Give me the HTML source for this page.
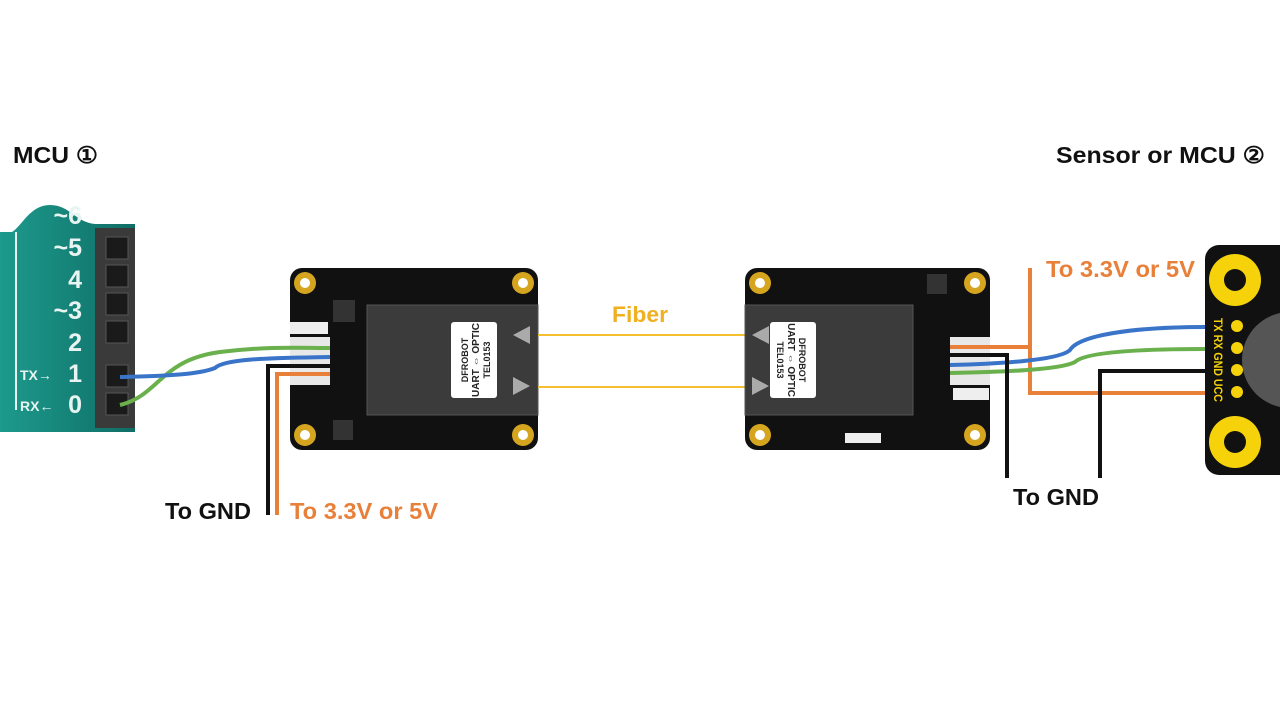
<!DOCTYPE html>
<html><head><meta charset="utf-8"><style>
html,body{margin:0;padding:0;background:#fff;}
svg{display:block;}
text{font-family:"Liberation Sans",sans-serif;font-weight:bold;}
</style></head><body>
<svg width="1280" height="720" viewBox="0 0 1280 720" xmlns="http://www.w3.org/2000/svg">
<rect width="1280" height="720" fill="#fff"/>
<text x="13" y="163" font-size="23" fill="#111" textLength="85" lengthAdjust="spacingAndGlyphs">MCU ①</text>
<text x="1056" y="163" font-size="23" fill="#111" textLength="209" lengthAdjust="spacingAndGlyphs">Sensor or  MCU ②</text>

<!-- MCU board -->
<defs><linearGradient id="tg" x1="0" x2="1"><stop offset="0" stop-color="#1d9a8c"/><stop offset="1" stop-color="#0f6e66"/></linearGradient></defs>
<path d="M0,232 L12,232 C22,226 30,205 50,205 C70,205 75,222 95,224 L135,224 L135,432 L0,432 Z" fill="url(#tg)"/>
<line x1="16" y1="232" x2="16" y2="410" stroke="#e8f4f2" stroke-width="2"/>
<rect x="95" y="228" width="40" height="200" fill="#3a3a3a"/>
<g fill="#1a1a1a" stroke="#555">
<rect x="106" y="237" width="22" height="22"/><rect x="106" y="265" width="22" height="22"/><rect x="106" y="293" width="22" height="22"/><rect x="106" y="321" width="22" height="22"/><rect x="106" y="365" width="22" height="22"/><rect x="106" y="393" width="22" height="22"/></g>
<g fill="#e8f4f2" font-size="25" text-anchor="end">
<text x="82" y="224">~6</text><text x="82" y="256">~5</text><text x="82" y="288">4</text><text x="82" y="319">~3</text><text x="82" y="351">2</text><text x="82" y="382">1</text><text x="82" y="413">0</text></g>
<g fill="#e8f4f2" font-size="14"><text x="20" y="380">TX→</text><text x="20" y="411">RX←</text></g>

<!-- left module -->
<rect x="290" y="268" width="248" height="182" rx="12" fill="#111"/>
<rect x="367" y="305" width="171" height="110" fill="#3b3b3b" stroke="#555"/>
<rect x="451" y="322" width="46" height="76" rx="3" fill="#fff"/>
<g fill="#222" font-size="9" transform="translate(474,360) rotate(-90)" text-anchor="middle"><text y="-6">DFROBOT</text><text y="5" font-size="10">UART ⇔ OPTIC</text><text y="16" font-weight="normal">TEL0153</text></g>
<polygon points="513,335 530,326 530,344" fill="#aaa"/>
<polygon points="513,377 530,386 513,395" fill="#aaa"/>
<rect x="290" y="337" width="40" height="48" fill="#e8e8e8"/>
<rect x="290" y="322" width="38" height="12" fill="#eee"/>
<g fill="#d6a520"><circle cx="305" cy="283" r="11"/><circle cx="523" cy="283" r="11"/><circle cx="305" cy="435" r="11"/><circle cx="523" cy="435" r="11"/></g>
<g fill="#fff"><circle cx="305" cy="283" r="5"/><circle cx="523" cy="283" r="5"/><circle cx="305" cy="435" r="5"/><circle cx="523" cy="435" r="5"/></g>
<rect x="333" y="300" width="22" height="22" fill="#333"/><rect x="333" y="420" width="20" height="20" fill="#333"/>

<!-- fiber -->
<line x1="538" y1="335" x2="745" y2="335" stroke="#f5c030" stroke-width="2"/>
<line x1="538" y1="387" x2="745" y2="387" stroke="#f5c030" stroke-width="2"/>
<text x="612" y="322" font-size="22" fill="#f0b020" textLength="56" lengthAdjust="spacingAndGlyphs">Fiber</text>

<!-- right module -->
<rect x="745" y="268" width="245" height="182" rx="12" fill="#111"/>
<rect x="745" y="305" width="168" height="110" fill="#3b3b3b" stroke="#555"/>
<rect x="770" y="322" width="46" height="76" rx="3" fill="#fff"/>
<g fill="#222" font-size="9" transform="translate(793,360) rotate(90)" text-anchor="middle"><text y="-6">DFROBOT</text><text y="5" font-size="10">UART ⇔ OPTIC</text><text y="16" font-weight="normal">TEL0153</text></g>
<polygon points="752,335 769,326 769,344" fill="#aaa"/>
<polygon points="752,377 769,386 752,395" fill="#aaa"/>
<rect x="950" y="337" width="40" height="48" fill="#e8e8e8"/>
<rect x="953" y="388" width="36" height="12" fill="#eee"/>
<g fill="#d6a520"><circle cx="760" cy="283" r="11"/><circle cx="975" cy="283" r="11"/><circle cx="760" cy="435" r="11"/><circle cx="975" cy="435" r="11"/></g>
<g fill="#fff"><circle cx="760" cy="283" r="5"/><circle cx="975" cy="283" r="5"/><circle cx="760" cy="435" r="5"/><circle cx="975" cy="435" r="5"/></g>
<rect x="927" y="274" width="20" height="20" fill="#333"/><rect x="845" y="433" width="36" height="10" fill="#eee"/>

<!-- sensor -->
<rect x="1205" y="245" width="90" height="230" rx="14" fill="#111"/>
<circle cx="1290" cy="360" r="48" fill="#555"/>
<g fill="#f5d20a"><circle cx="1235" cy="280" r="26"/><circle cx="1235" cy="442" r="26"/></g>
<g fill="#111"><circle cx="1235" cy="280" r="11"/><circle cx="1235" cy="442" r="11"/></g>
<g fill="#f5d20a"><circle cx="1237" cy="326" r="6"/><circle cx="1237" cy="348" r="6"/><circle cx="1237" cy="370" r="6"/><circle cx="1237" cy="392" r="6"/></g>
<g fill="#f5d20a" font-size="12" transform="translate(1214,360) rotate(90)"><text x="-42" y="0" textLength="84" lengthAdjust="spacingAndGlyphs">TX RX GND UCC</text></g>

<!-- left wires -->
<g fill="none" stroke-width="4">
<path d="M120,405 C160,395 160,360 220,352 C270,346 300,348 330,348" stroke="#6ab04c"/>
<path d="M120,377 C170,376 200,374 215,368 C225,358 280,358 330,357" stroke="#3a74c8"/>
<path d="M330,366 L268,366 L268,515" stroke="#111"/>
<path d="M330,374 L277,374 L277,515" stroke="#e8803a"/>
</g>
<text x="165" y="519" font-size="23" fill="#111" textLength="86" lengthAdjust="spacingAndGlyphs">To GND</text>
<text x="290" y="519" font-size="23" fill="#e8803a" textLength="148" lengthAdjust="spacingAndGlyphs">To 3.3V or 5V</text>

<!-- right wires -->
<g fill="none" stroke-width="4">
<path d="M950,347 L1030,347 M1030,268 L1030,393 L1205,393" stroke="#e8803a"/>
<path d="M950,365 C1000,364 1060,360 1070,350 C1080,334 1140,327 1205,327" stroke="#3a74c8"/>
<path d="M950,373 C1000,372 1060,370 1075,362 C1085,352 1140,349 1205,349" stroke="#6ab04c"/>
<path d="M950,355 L1007,355 L1007,478" stroke="#111"/>
<path d="M1205,371 L1100,371 L1100,478" stroke="#111"/>
</g>
<text x="1046" y="277" font-size="23" fill="#e8803a" textLength="149" lengthAdjust="spacingAndGlyphs">To 3.3V or 5V</text>
<text x="1013" y="505" font-size="23" fill="#111" textLength="86" lengthAdjust="spacingAndGlyphs">To GND</text>
</svg>
</body></html>
